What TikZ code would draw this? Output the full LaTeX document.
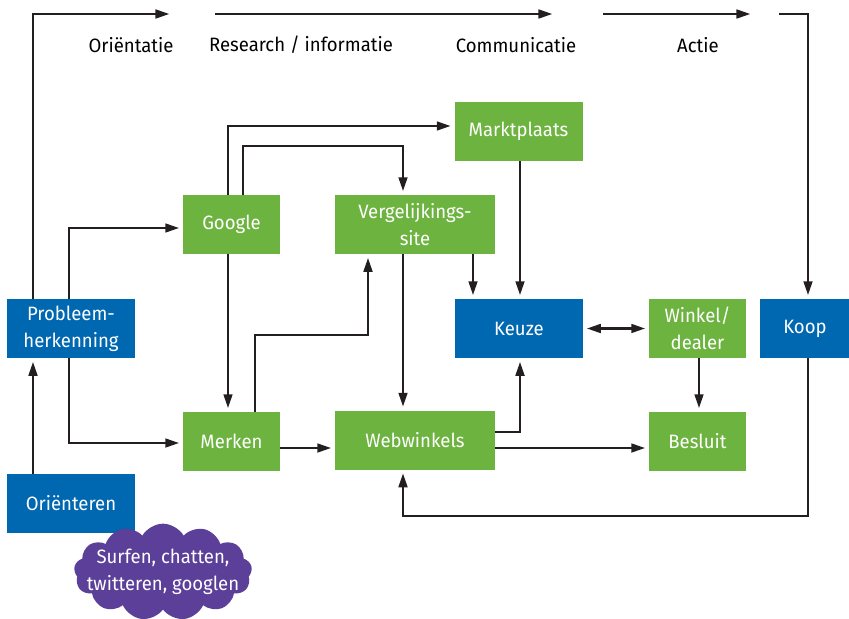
\documentclass[tikz,border=0pt]{standalone}
\usepackage{fontspec}
\setmainfont{Fira Sans}[FakeStretch=0.96]
\usetikzlibrary{arrows.meta,shapes.symbols}
\definecolor{boxgreen}{HTML}{6DB33F}
\definecolor{boxblue}{HTML}{0067B1}
\definecolor{cloudpurple}{HTML}{5B3F98}
\definecolor{linegray}{HTML}{231F20}
\tikzset{
  box/.style={text=white, align=center, minimum height=1.77cm, inner sep=0pt,
    font=\fontsize{16.5}{23}\selectfont},
  stagebox/.style={box, fill=boxblue},
  stepbox/.style={box, fill=boxgreen},
  conn/.style={draw=linegray, line width=2.2pt,
    -{Triangle[length=0.42cm,width=0.26cm]}, shorten >=3pt},
  connboth/.style={conn, {Triangle[length=0.42cm,width=0.26cm]}-{Triangle[length=0.42cm,width=0.26cm]}, shorten <=3pt},
  phase/.style={font=\fontsize{16.5}{19}\selectfont}
}
\begin{document}
\begin{tikzpicture}[x=0.03cm, y=-0.03cm]
\useasboundingbox (0,0) rectangle (849,618);
\node[stagebox, minimum width=3.84cm] (probleem) at (71,328.5) {Probleem-\\herkenning};
\node[stagebox, minimum width=3.84cm] (orienteren) at (71,503.5) {Oriënteren};
\node[stepbox, minimum width=2.91cm] (google) at (231.5,224.5) {Google};
\node[stepbox, minimum width=2.91cm] (merken) at (231.5,441.5) {Merken};
\node[stepbox, minimum width=4.8cm] (vergelijk) at (415,224.5) {Vergelijkings-\\site};
\node[stepbox, minimum width=4.8cm] (webwinkels) at (415,440) {Webwinkels};
\node[stepbox, minimum width=3.84cm] (markt) at (518.5,131.5) {Marktplaats};
\node[stagebox, minimum width=3.84cm] (keuze) at (519,328.5) {Keuze};
\node[stepbox, minimum width=2.91cm] (winkel) at (697.5,328.5) {Winkel/\\dealer};
\node[stepbox, minimum width=2.91cm] (besluit) at (697.5,441.5) {Besluit};
\node[stagebox, minimum width=2.7cm] (koop) at (805,328.5) {Koop};
\node[cloud, cloud puffs=13, cloud puff arc=120, aspect=2, fill=cloudpurple,
  inner sep=0pt, minimum width=5.34cm, minimum height=2.9cm] (wolk) at (163,572) {};
\node[text=white, align=center, font=\fontsize{16.5}{23}\selectfont] (surfen) at (wolk.center) {Surfen, chatten,\\twitteren, googlen};
\node[phase] (ori) at (131,45) {Oriëntatie};
\node[phase] (research) at (301,45) {Research / informatie};
\node[phase] (comm) at (516,45) {Communicatie};
\node[phase] (actie) at (698,45) {Actie};
\coordinate (t1) at (173,14);
\coordinate (t2) at (215,14);
\coordinate (t3) at (556,14);
\coordinate (t4) at (603,14);
\coordinate (t5) at (754,14);
\coordinate (t6) at (779,14);
\draw[conn] (probleem.north -| 33,0) |- (t1);
\draw[conn] (t2) -- (t3);
\draw[conn] (t4) -- (t5);
\draw[conn] (t6) -| (koop.north -| 808,0);
\draw[conn] (orienteren.north -| 33,0) -- (probleem.south -| 33,0);
\draw[conn] (probleem.north -| 69,0) |- (google.west |- 0,228);
\draw[conn] (probleem.south -| 69,0) |- (merken.west |- 0,443);
\draw[conn] (google.south -| 228,0) -- (merken.north -| 228,0);
\draw[conn] (google.north -| 228,0) |- (markt.west |- 0,126);
\draw[conn] (google.north -| 243,0) -- (243,146) -| (vergelijk.north -| 403,0);
\draw[conn] (merken.north -| 255,0) -- (255,335) -| (vergelijk.south -| 368,0);
\draw[conn] (merken.east |- 0,448) -- (webwinkels.west |- 0,448);
\draw[conn] (vergelijk.south -| 403,0) -- (webwinkels.north -| 403,0);
\draw[conn] (vergelijk.south -| 473,0) -- (keuze.north -| 473,0);
\draw[conn] (markt.south -| 520,0) -- (keuze.north -| 520,0);
\draw[conn] (webwinkels.east |- 0,432) -| (keuze.south -| 520,0);
\draw[conn] (webwinkels.east |- 0,448) -- (besluit.west |- 0,448);
\draw[connboth] (keuze.east) -- (winkel.west);
\draw[conn] (winkel.south -| 699,0) -- (besluit.north -| 699,0);
\draw[conn] (koop.south -| 808,0) |- (403,516) -- (webwinkels.south -| 403,0);
\end{tikzpicture}
\end{document}
